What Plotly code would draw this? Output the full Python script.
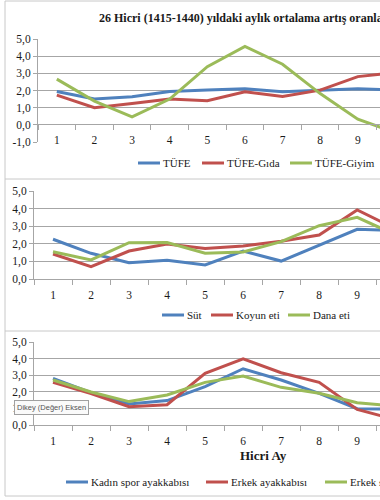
import plotly.graph_objects as go

# ---------------- data ----------------
months = [1, 2, 3, 4, 5, 6, 7, 8, 9, 10]
month_labels = ["1", "2", "3", "4", "5", "6", "7", "8", "9", "10"]

y_ticks_1 = [-1, 0, 1, 2, 3, 4, 5]
y_labels_1 = ["-1,0", "0,0", "1,0", "2,0", "3,0", "4,0", "5,0"]
y_ticks_23 = [0, 1, 2, 3, 4, 5]
y_labels_23 = ["0,0", "1,0", "2,0", "3,0", "4,0", "5,0"]

# panel 1
tufe = [1.94, 1.50, 1.63, 1.94, 2.03, 2.10, 1.93, 2.00, 2.10, 2.02]
tufe_gida = [1.73, 1.00, 1.24, 1.50, 1.40, 1.92, 1.65, 2.02, 2.81, 3.05]
tufe_giyim = [2.66, 1.38, 0.47, 1.50, 3.39, 4.57, 3.53, 1.82, 0.33, -0.45]

# panel 2
sut = [2.26, 1.46, 0.93, 1.06, 0.80, 1.59, 1.02, 1.93, 2.82, 2.75]
koyun_eti = [1.42, 0.70, 1.59, 1.99, 1.74, 1.87, 2.14, 2.50, 3.92, 2.87]
dana_eti = [1.55, 1.08, 2.06, 2.07, 1.46, 1.53, 2.12, 3.03, 3.50, 2.52]

# panel 3
kadin_spor = [2.81, 1.95, 1.27, 1.47, 2.31, 3.39, 2.71, 1.91, 0.98, 0.95]
erkek_ayak = [2.57, 1.90, 1.10, 1.22, 3.11, 3.98, 3.15, 2.57, 0.94, 0.33]
erkek_spor = [2.71, 1.99, 1.41, 1.81, 2.57, 2.95, 2.27, 1.91, 1.34, 1.15]

panel1_names = ["TÜFE", "TÜFE-Gıda", "TÜFE-Giyim"]
panel2_names = ["Süt", "Koyun eti", "Dana eti"]
panel3_names = ["Kadın spor ayakkabısı", "Erkek ayakkabısı", "Erkek spor ayakkabısı"]

title_text = "26 Hicri (1415-1440) yıldaki aylık ortalama artış oranları"
x_title = "Hicri Ay"
tooltip_text = "Dikey (Değer) Eksen"

# ---------------- style ----------------
W, H = 380, 500
COLORS = ["#4F81BD", "#C0504D", "#9BBB59"]
GRID = "#A6A6A6"
BORDER = "#C8C8C8"
SERIF = "Liberation Serif"
TXT = "#1a1a1a"


def px_x(p):
    return p / W


def px_y(p):
    return 1 - p / H


fig = go.Figure()

panels = [
    (panel1_names, [tufe, tufe_gida, tufe_giyim], "x", "y"),
    (panel2_names, [sut, koyun_eti, dana_eti], "x2", "y2"),
    (panel3_names, [kadin_spor, erkek_ayak, erkek_spor], "x3", "y3"),
]
for names, series, xa, ya in panels:
    for name, vals, col in zip(names, series, COLORS):
        fig.add_trace(go.Scatter(
            x=months, y=vals, name=name, mode="lines",
            line=dict(color=col, width=3), xaxis=xa, yaxis=ya,
            showlegend=False, hoverinfo="skip",
        ))

tickfont = dict(family=SERIF, size=11.5, color=TXT)


def xaxis(domain_left, rng, **kw):
    d = dict(
        domain=[domain_left, 1], range=rng, tickmode="array",
        tickvals=months, ticktext=month_labels,
        ticks="outside", ticklen=5, tickcolor="rgba(0,0,0,0)",
        showline=True, linecolor=GRID, linewidth=1,
        showgrid=False, zeroline=False, tickfont=tickfont,
        minor=dict(tickmode="linear", tick0=0.5, dtick=1, ticks="outside",
                   ticklen=5, tickcolor=GRID, showgrid=False),
        automargin=False, fixedrange=True,
    )
    d.update(kw)
    return d


def yaxis(domain, rng, tv, tt, **kw):
    d = dict(
        domain=domain, range=rng, tickmode="array", tickvals=tv, ticktext=tt,
        showgrid=True, gridcolor=GRID, gridwidth=1,
        ticks="outside", ticklen=4, tickcolor=GRID,
        showline=True, linecolor=GRID, linewidth=1, zeroline=False,
        tickfont=tickfont, automargin=False, fixedrange=True,
    )
    d.update(kw)
    return d


fig.update_layout(
    width=W, height=H, margin=dict(l=0, r=0, t=0, b=0),
    paper_bgcolor="white", plot_bgcolor="white",
    showlegend=False,
    xaxis=xaxis(px_x(38), [0.5, 9.59], anchor="free", position=px_y(124)),
    yaxis=yaxis([px_y(142), px_y(39)], [-1, 5], y_ticks_1, y_labels_1, anchor="x"),
    xaxis2=xaxis(px_x(34), [0.5, 9.6], anchor="y2"),
    yaxis2=yaxis([px_y(279), px_y(191)], [0, 5], y_ticks_23, y_labels_23, anchor="x2"),
    xaxis3=xaxis(px_x(34), [0.5, 9.6], anchor="y3"),
    yaxis3=yaxis([px_y(425), px_y(342)], [0, 5], y_ticks_23, y_labels_23, anchor="x3"),
)

shapes = []
annotations = []

# chart borders (separate stacked Excel charts)
for y0 in [1, 179, 331, 496]:
    shapes.append(dict(type="line", xref="paper", yref="paper",
                       x0=px_x(5), x1=1.0, y0=px_y(y0), y1=px_y(y0),
                       line=dict(color=BORDER, width=1)))
shapes.append(dict(type="line", xref="paper", yref="paper",
                   x0=px_x(5), x1=px_x(5), y0=px_y(1), y1=px_y(496),
                   line=dict(color=BORDER, width=1)))

# title
annotations.append(dict(text="<b>" + title_text + "</b>", xref="paper", yref="paper",
                        x=px_x(97), y=px_y(18), xanchor="left", yanchor="middle",
                        showarrow=False, font=dict(family=SERIF, size=12, color=TXT)))

# x-axis title (panel 3)
annotations.append(dict(text="<b>" + x_title + "</b>", xref="paper", yref="paper",
                        x=px_x(263), y=px_y(455), xanchor="center", yanchor="middle",
                        showarrow=False, font=dict(family=SERIF, size=13, color=TXT)))

# legends: (names, y center, line start x positions)
legend_specs = [
    (panel1_names, 163, [138, 202, 290]),
    (panel2_names, 315, [162, 211, 288]),
    (panel3_names, 482, [66, 206, 325]),
]
for names, yc, xs in legend_specs:
    for name, col, x0 in zip(names, COLORS, xs):
        shapes.append(dict(type="line", xref="paper", yref="paper",
                           x0=px_x(x0), x1=px_x(x0 + 22), y0=px_y(yc), y1=px_y(yc),
                           line=dict(color=col, width=3)))
        annotations.append(dict(text=name, xref="paper", yref="paper",
                                x=px_x(x0 + 23), y=px_y(yc), xanchor="left", yanchor="middle",
                                showarrow=False, font=dict(family=SERIF, size=11, color=TXT)))

# Excel tooltip
annotations.append(dict(text=tooltip_text, xref="paper", yref="paper",
                        x=px_x(14), y=px_y(407), xanchor="left", yanchor="middle",
                        showarrow=False, bgcolor="#FAFAFA", bordercolor="#A0A0A0",
                        borderwidth=1, borderpad=2,
                        font=dict(family="Liberation Sans", size=7.5, color="#555555")))

fig.update_layout(shapes=shapes, annotations=annotations)

fig.write_html("out.html", config={"displayModeBar": False},
               post_script="document.body.style.margin='0';")
